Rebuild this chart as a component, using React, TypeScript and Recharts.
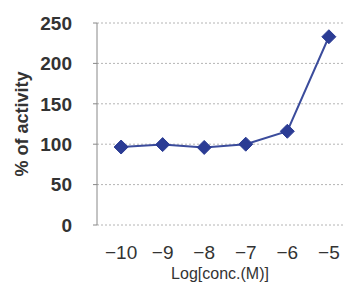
import { LineChart, Line, XAxis, YAxis, CartesianGrid, Label } from "recharts";

const FONT = "'Liberation Sans', Arial, sans-serif";

const logConc = [-10, -9, -8, -7, -6, -5];
const activity = [96.5, 99.5, 96, 100, 116, 233];
const yTicks = [0, 50, 100, 150, 200, 250];
// tick marks sit between the categories
const betweenTicks = [-9.5, -8.5, -7.5, -6.5, -5.5];

const data = logConc.map((x, i) => ({ x, y: activity[i] }));

const Diamond = (props: any) => {
  const { cx, cy } = props;
  if (cx == null || cy == null) return null;
  const r = 7;
  return (
    <polygon
      points={`${cx},${cy - r} ${cx + r},${cy} ${cx},${cy + r} ${cx - r},${cy}`}
      fill="#2b3c94"
      stroke="#2b3c94"
    />
  );
};

export default function App() {
  return (
    <div style={{ position: "fixed", left: 0, top: 0, width: 343, height: 282, overflow: "hidden", background: "#fff" }}>
      <LineChart width={343} height={282} data={data} margin={{ top: 23, right: 0, bottom: 0, left: 0 }}>
        <CartesianGrid vertical={false} stroke="#b4b4b4" strokeDasharray="2 2" />
        <XAxis
          xAxisId="marks"
          dataKey="x"
          type="number"
          domain={[-10.58, -4.66]}
          ticks={betweenTicks}
          tick={false}
          mirror
          tickSize={5}
          height={0}
          stroke="#888"
        />
        <XAxis
          dataKey="x"
          type="number"
          domain={[-10.58, -4.66]}
          ticks={logConc}
          axisLine={false}
          tickLine={false}
          tickSize={0}
          tickMargin={21}
          height={57}
          tickFormatter={(v) => String(v).replace("-", "\u2212")}
          tick={{ fontSize: 19, fill: "#333", fontFamily: FONT }}
        >
          <Label
            value="Log[conc.(M)]"
            position="insideBottom"
            offset={3}
            style={{ fontSize: 16, fill: "#333", fontFamily: FONT }}
          />
        </XAxis>
        <YAxis
          domain={[0, 250]}
          ticks={yTicks}
          width={97}
          stroke="#888"
          tickSize={4}
          tickMargin={21}
          interval={0}
          tick={{ fontSize: 19, fontWeight: "bold", fill: "#333", fontFamily: FONT }}
        >
          <Label
            value="% of activity"
            angle={-90}
            position="center"
            dx={-27}
            style={{ fontSize: 18, fontWeight: "bold", fill: "#333", fontFamily: FONT }}
          />
        </YAxis>
        <Line
          dataKey="y"
          stroke="#3b4c9c"
          strokeWidth={2}
          dot={<Diamond />}
          isAnimationActive={false}
        />
      </LineChart>
    </div>
  );
}
